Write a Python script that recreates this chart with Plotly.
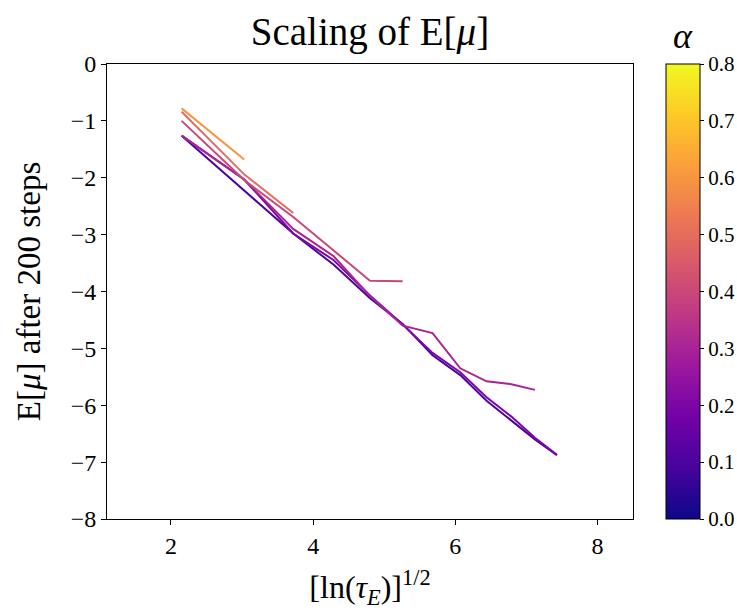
import plotly.graph_objects as go
from plotly.colors import sample_colorscale

# x positions: [ln(tau_E)]^(1/2)
x_vals = [2.15, 3.03, 3.72, 4.29, 4.80, 5.26, 5.68, 6.07, 6.44, 6.79, 7.12, 7.43]

alphas = [0.1, 0.2, 0.3, 0.4, 0.5, 0.6]
y_a01 = [-1.26, -2.22, -2.98, -3.53, -4.12, -4.57, -5.12, -5.47, -5.92, -6.27, -6.60, -6.88]
y_a02 = [-1.26, -2.03, -2.98, -3.45, -4.07, -4.58, -5.08, -5.42, -5.86, -6.20, -6.57, -6.87]
y_a03 = [-1.26, -2.03, -2.90, -3.38, -4.08, -4.60, -4.73, -5.35, -5.58, -5.63, -5.73]
y_a04 = [-1.00, -2.04, -2.69, -3.28, -3.81, -3.82]
y_a05 = [-0.84, -1.94, -2.62]
y_a06 = [-0.78, -1.68]
series = [y_a01, y_a02, y_a03, y_a04, y_a05, y_a06]

x_ticks = [2, 4, 6, 8]
y_ticks = [0, -1, -2, -3, -4, -5, -6, -7, -8]
cb_ticks = [0.0, 0.1, 0.2, 0.3, 0.4, 0.5, 0.6, 0.7, 0.8]

CMAX = 0.8
FONT = "Liberation Serif"

L, R, T, B = 107, 633, 64, 519
W, H = 737, 610
PW, PH = R - L, B - T

fig = go.Figure()
for a, ys in zip(alphas, series):
    col = sample_colorscale("Plasma", [a / CMAX])[0]
    fig.add_trace(go.Scatter(x=x_vals[:len(ys)], y=ys, mode="lines",
                             line=dict(color=col, width=2), showlegend=False,
                             hoverinfo="skip"))

# colorbar carrier
fig.add_trace(go.Scatter(
    x=[None], y=[None], mode="markers", showlegend=False,
    marker=dict(color=[0], colorscale="Plasma", cmin=0, cmax=CMAX, showscale=True,
                colorbar=dict(
                    x=(666 - L) / PW, xanchor="left", xpad=0,
                    y=0.5, yanchor="middle", ypad=0, len=1, lenmode="fraction",
                    thickness=34, outlinecolor="black", outlinewidth=1,
                    ticks="outside", ticklen=4, tickwidth=1, tickcolor="black",
                    tickvals=cb_ticks, ticktext=[f"{v:.1f}" for v in cb_ticks],
                    tickfont=dict(family=FONT, size=21, color="black"),
                ))))

fig.add_annotation(text="<i>α</i>", xref="paper", yref="paper",
                   x=(683 - L) / PW, y=1 + (T - 36) / PH,
                   xanchor="center", yanchor="middle", showarrow=False,
                   font=dict(family=FONT, size=36, color="black"))

fig.update_layout(
    width=W, height=H,
    margin=dict(l=L, r=W - R, t=T, b=H - B, autoexpand=False),
    plot_bgcolor="white", paper_bgcolor="white",
    title=dict(text="Scaling of E[<i>μ</i>]", x=0.5, xref="paper", xanchor="center",
               y=1 - 31 / H, yanchor="middle",
               font=dict(family=FONT, size=39, color="black")),
    font=dict(family=FONT, color="black"),
)
fig.update_xaxes(
    range=[1.1, 8.5], showgrid=False, zeroline=False,
    showline=True, linecolor="black", linewidth=1, mirror=True,
    ticks="outside", ticklen=5, tickcolor="black",
    tickvals=x_ticks, ticktext=[str(v) for v in x_ticks],
    tickfont=dict(family=FONT, size=24),
    title=dict(text="[ln(<i>τ</i><sub><i>E</i></sub>)]<sup>1/2</sup>",
               font=dict(family=FONT, size=32), standoff=18),
)
fig.update_yaxes(
    range=[-8, 0], showgrid=False, zeroline=False,
    showline=True, linecolor="black", linewidth=1, mirror=True,
    ticks="outside", ticklen=5, tickcolor="black",
    tickvals=y_ticks, ticktext=[str(v).replace("-", "−") for v in y_ticks],
    tickfont=dict(family=FONT, size=24),
    title=dict(text="E[<i>μ</i>] after 200 steps",
               font=dict(family=FONT, size=33), standoff=20),
)

fig.write_html("out.html")
